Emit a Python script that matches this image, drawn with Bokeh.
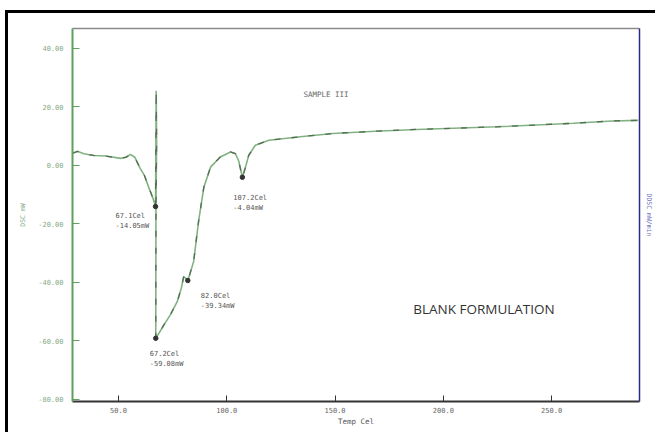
from bokeh.plotting import figure
from bokeh.models import (Range1d, LinearAxis, FixedTicker, PrintfTickFormatter,
                          Label, ColumnDataSource)
from bokeh.core.properties import value
from bokeh.embed import file_html
from bokeh.resources import INLINE

# DSC trace: temperature (Cel) and heat flow (mW)
temp = [29, 31, 34, 38.5, 44, 51, 53.5, 55.5, 57.5, 60, 62, 64, 65.8, 67.1,
        67.4, 67.6, 67.3, 67.2, 69, 70.9, 74, 77.1, 79, 80.1, 81, 82.0, 83,
        84.7, 87, 89.4, 92.5, 97, 101.7, 104, 105.5, 107.2, 108.5, 110.1,
        113.2, 119.4, 134, 149, 168.6, 187.8, 224.8, 248, 260, 278, 290]
dsc = [4.2, 4.8, 4.0, 3.4, 3.2, 2.4, 2.8, 3.8, 2.8, -1.0, -3.5, -7.6, -11.0, -14.05,
       25.5, 8.0, -14.0, -59.08, -57.0, -54.6, -51.0, -46.6, -42.0, -38.0, -38.5, -39.34, -37.0,
       -32.8, -19.0, -7.5, -0.6, 2.9, 4.6, 4.0, 1.5, -4.04, -1.0, 3.4,
       6.9, 8.6, 9.8, 10.9, 11.7, 12.3, 13.2, 14.0, 14.4, 15.2, 15.4]

# Marked peaks
peak_temp = [67.1, 67.2, 82.0, 107.2]
peak_dsc = [-14.05, -59.08, -39.34, -4.04]

x_ticks = [50, 100, 150, 200, 250]
y_ticks = [-80, -60, -40, -20, 0, 20, 40]

MONO = value("DejaVu Sans Mono")

# canvas sits 5px in and 10px down, with a black rule on its left and top
p = figure(width=650, height=422, output_backend="svg", toolbar_location=None,
           x_range=Range1d(28.75, 290.6), y_range=Range1d(-80.7, 46.8),
           min_border_left=64, min_border_right=19, min_border_top=15,
           min_border_bottom=34, x_axis_label="Temp Cel", y_axis_label="DSC mW",
           margin=(10, 0, 0, 5),
           styles={"border-left": "3px solid black", "border-top": "3px solid black"})
p.grid.visible = False
p.outline_line_color = None
p.background_fill_color = "white"
p.border_fill_color = "white"

# bottom axis
xa = p.xaxis[0]
xa.ticker = FixedTicker(ticks=x_ticks)
xa.formatter = PrintfTickFormatter(format="%.1f")
xa.axis_line_color = "#333333"
xa.axis_line_width = 2
xa.major_tick_in = 6
xa.major_tick_out = 0
xa.major_tick_line_color = "#333333"
xa.minor_tick_line_color = None
xa.major_label_text_font = "DejaVu Sans Mono"
xa.major_label_text_font_size = "7px"
xa.major_label_text_color = "#666666"
xa.major_label_standoff = 5
xa.axis_label_text_font = "DejaVu Sans Mono"
xa.axis_label_text_font_size = "7.5px"
xa.axis_label_text_font_style = "normal"
xa.axis_label_text_color = "#555555"
xa.axis_label_standoff = 1

# left axis
ya = p.yaxis[0]
ya.ticker = FixedTicker(ticks=y_ticks)
ya.formatter = PrintfTickFormatter(format="%.2f")
ya.axis_line_color = "#5f9f5f"
ya.axis_line_width = 2
ya.major_tick_in = 7
ya.major_tick_out = 0
ya.major_tick_line_color = "#5f9f5f"
ya.minor_tick_line_color = None
ya.major_label_text_font = "DejaVu Sans Mono"
ya.major_label_text_font_size = "7px"
ya.major_label_text_color = "#86aa86"
ya.major_label_standoff = 9
ya.axis_label_text_font = "DejaVu Sans Mono"
ya.axis_label_text_font_size = "6.5px"
ya.axis_label_text_font_style = "normal"
ya.axis_label_text_color = "#86aa86"
ya.axis_label_standoff = 8

# right axis (derivative signal, no ticks)
ra = LinearAxis(ticker=FixedTicker(ticks=[]), axis_label="DDSC mW/min",
                axis_line_color="#2b2b80", axis_line_width=1.5,
                major_tick_in=0, major_tick_out=0, minor_tick_line_color=None,
                major_label_standoff=0, axis_label_standoff=5,
                axis_label_text_font="DejaVu Sans Mono",
                axis_label_text_font_size="6.5px",
                axis_label_text_font_style="normal",
                axis_label_text_color="#7070c0")
p.add_layout(ra, "right")

# top frame line
ta = LinearAxis(ticker=FixedTicker(ticks=[]), axis_line_color="#8a8a8a",
                axis_line_width=1.5, major_tick_in=0, major_tick_out=0,
                minor_tick_line_color=None, major_label_standoff=0)
p.add_layout(ta, "above")

# trace: light green line with darker dashes on top
src = ColumnDataSource(dict(t=temp, q=dsc))
p.line("t", "q", source=src, line_color="#80b380", line_width=1.6)
p.line("t", "q", source=src, line_color="#566c56", line_width=1.3, line_dash="6 11")

# peak markers and their labels
psrc = ColumnDataSource(dict(
    t=peak_temp, q=peak_dsc,
    l1=[f"{t:.1f}Cel" for t in peak_temp],
    l2=[f"{v:.2f}mW" for v in peak_dsc],
    dx=[-40, -6, 13, -9],
    dy=[9, 16, 15, 21],
))
p.scatter("t", "q", source=psrc, size=4.5, color="#333333")
p.text("t", "q", text="l1", source=psrc, x_offset="dx", y_offset="dy",
       text_font=MONO, text_font_size="7px", text_color="#555555",
       text_baseline="middle", text_align="left")
psrc.data["dy2"] = [d + 10 for d in psrc.data["dy"]]
p.text("t", "q", text="l2", source=psrc, x_offset="dx", y_offset="dy2",
       text_font=MONO, text_font_size="7px", text_color="#555555",
       text_baseline="middle", text_align="left")

p.add_layout(Label(x=135.4, y=24.1, text="SAMPLE III", text_font="DejaVu Sans Mono",
                   text_font_size="7.5px", text_color="#666666",
                   text_baseline="middle"))
p.add_layout(Label(x=186.1, y=-49.0, text="BLANK FORMULATION", text_font="Open Sans",
                   text_font_size="13.5px", text_color="#333333",
                   text_baseline="middle"))

open("out.html", "w").write(file_html(p, INLINE))
